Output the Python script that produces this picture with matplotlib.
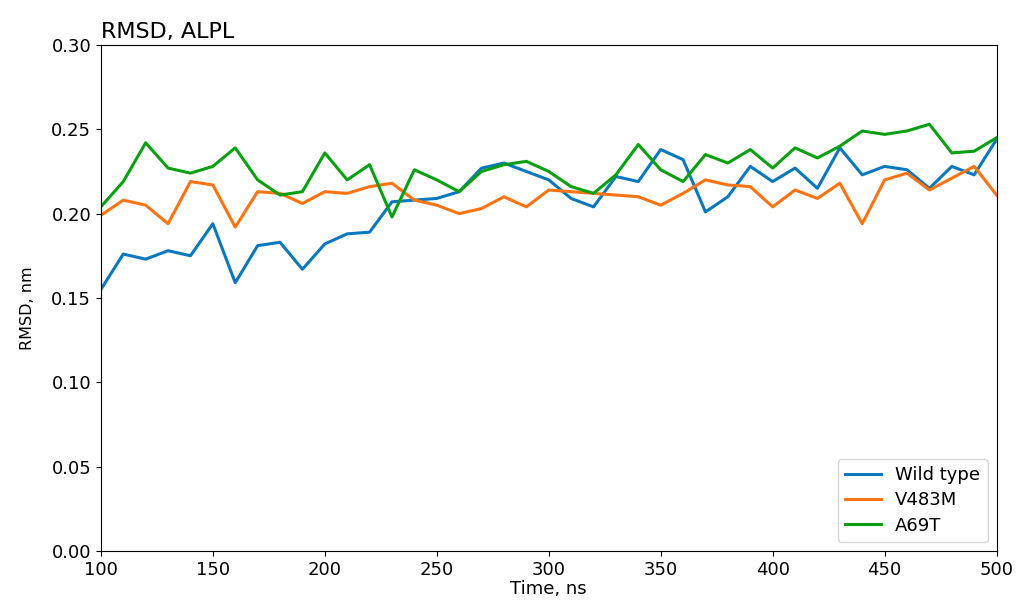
import numpy as np
import matplotlib
matplotlib.use("Agg")
import matplotlib.pyplot as plt

# -------------------------------
# Data
# -------------------------------
time_ns = list(range(100, 510, 10))

wild_type = [0.155, 0.176, 0.173, 0.178, 0.175, 0.194, 0.159, 0.181, 0.183, 0.167,
             0.182, 0.188, 0.189, 0.207, 0.208, 0.209, 0.213, 0.227, 0.230, 0.225,
             0.220, 0.209, 0.204, 0.222, 0.219, 0.238, 0.232, 0.201, 0.210, 0.228,
             0.219, 0.227, 0.215, 0.239, 0.223, 0.228, 0.226, 0.215, 0.228, 0.223,
             0.244]

v483m = [0.199, 0.208, 0.205, 0.194, 0.219, 0.217, 0.192, 0.213, 0.212, 0.206,
         0.213, 0.212, 0.216, 0.218, 0.208, 0.205, 0.200, 0.203, 0.210, 0.204,
         0.214, 0.213, 0.212, 0.211, 0.210, 0.205, 0.212, 0.220, 0.217, 0.216,
         0.204, 0.214, 0.209, 0.218, 0.194, 0.220, 0.224, 0.214, 0.221, 0.228,
         0.211]

a69t = [0.204, 0.219, 0.242, 0.227, 0.224, 0.228, 0.239, 0.220, 0.211, 0.213,
        0.236, 0.220, 0.229, 0.198, 0.226, 0.220, 0.213, 0.225, 0.229, 0.231,
        0.225, 0.216, 0.212, 0.223, 0.241, 0.226, 0.219, 0.235, 0.230, 0.238,
        0.227, 0.239, 0.233, 0.240, 0.249, 0.247, 0.249, 0.253, 0.236, 0.237,
        0.245]

labels = ["Wild type", "V483M", "A69T"]
colors = ["#0a78bd", "#ff7410", "#08a010"]

# -------------------------------
# Plot
# -------------------------------
fig = plt.figure(figsize=(10.19, 6.08), dpi=100)
ax = fig.add_axes([0.099, 0.094, 0.879, 0.832])

for series, lab, col in zip([wild_type, v483m, a69t], labels, colors):
    ax.plot(time_ns, series, color=col, lw=2.2, label=lab)

ax.set_xlim(100, 500)
ax.set_ylim(0, 0.30)
ax.set_yticks(np.arange(0, 0.31, 0.05))
ax.yaxis.set_major_formatter(matplotlib.ticker.FormatStrFormatter("%.2f"))
ax.tick_params(labelsize=13)

ax.set_title("RMSD, ALPL", loc="left", fontsize=16, pad=5)
ax.set_xlabel("Time, ns", fontsize=13, labelpad=1)
ax.set_ylabel("RMSD, nm", fontsize=11.5)
ax.yaxis.set_label_coords(-0.073, 0.48)

ax.legend(loc="lower right", fontsize=13, labelspacing=0.4)

fig.savefig("out.png", dpi=100)
